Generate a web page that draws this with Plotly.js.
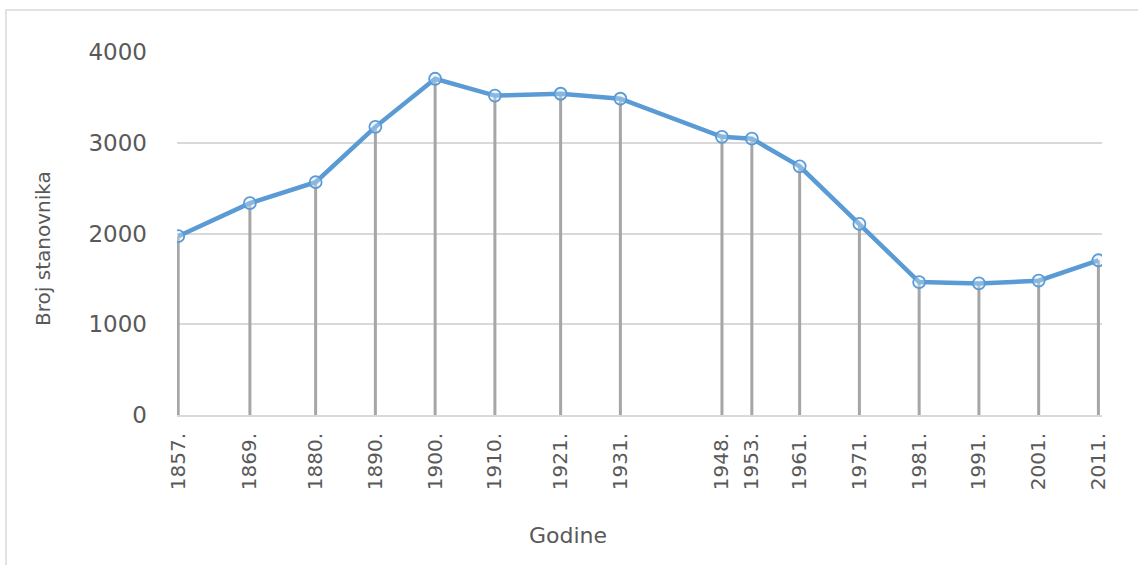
<!DOCTYPE html>
<html>
<head>
<meta charset="utf-8">
<script src="https://cdn.plot.ly/plotly-3.0.1.min.js"></script>
<style>
  html, body { margin: 0; padding: 0; background: #fff; }
  #wrap { position: relative; width: 1138px; height: 565px; }
  #frame { position: absolute; left: 5px; top: 9px; width: 1140px; height: 570px;
           border-top: 2px solid #e3e3e3; border-left: 2px solid #e3e3e3; pointer-events: none; }
  #chart { position: absolute; left: 0; top: 0; width: 1138px; height: 565px; }
</style>
</head>
<body>
<div id="wrap">
  <div id="chart"></div>
  <div id="frame"></div>
</div>
<script>
// Census years and population (Broj stanovnika)
const years = [1857, 1869, 1880, 1890, 1900, 1910, 1921, 1931, 1948, 1953, 1961, 1971, 1981, 1991, 2001, 2011];
const population = [1970, 2335, 2565, 3175, 3705, 3520, 3540, 3485, 3065, 3045, 2740, 2105, 1465, 1450, 1480, 1705];
const yearLabels = years.map(y => y + '.');
const yTicks = [0, 1000, 2000, 3000, 4000];

const textColor = '#595959';
const font = 'DejaVu Sans, sans-serif';

// Drop lines from each point to the axis
const stemX = [], stemY = [];
years.forEach((yr, i) => { stemX.push(yr, yr, null); stemY.push(0, population[i], null); });

const traces = [
  {
    x: stemX, y: stemY, type: 'scatter', mode: 'lines',
    line: { color: '#a6a6a6', width: 3 },
    hoverinfo: 'skip', showlegend: false
  },
  {
    x: years, y: population, type: 'scatter', mode: 'lines+markers',
    line: { color: '#5b9bd5', width: 4.5 },
    marker: { symbol: 'circle', size: 12, color: 'rgba(220,234,247,0.35)',
              line: { color: '#5b9bd5', width: 1.8 } },
    name: 'Broj stanovnika', showlegend: false
  }
];

const layout = {
  width: 1138, height: 565,
  margin: { l: 177, r: 36, t: 52, b: 150 },
  paper_bgcolor: '#ffffff', plot_bgcolor: '#ffffff',
  font: { family: font, color: textColor },
  showlegend: false,
  xaxis: {
    type: 'linear',
    range: [1856.8, 2011.6],
    tickmode: 'array', tickvals: years, ticktext: yearLabels,
    tickangle: -90,
    tickfont: { size: 20, color: textColor, family: font },
    showgrid: false, zeroline: false,
    showline: true, linecolor: '#d9d9d9', linewidth: 2,
    ticks: '', ticklabelstandoff: 8
  },
  yaxis: {
    range: [0, 4000],
    tickmode: 'array', tickvals: yTicks, ticktext: yTicks.map(String),
    tickfont: { size: 23, color: textColor, family: font },
    showgrid: true, gridcolor: '#d9d9d9', gridwidth: 2,
    zeroline: false, showline: false, ticks: '',
    ticklabelstandoff: 29
  },
  annotations: [
    { text: 'Broj stanovnika', xref: 'paper', yref: 'paper', x: -0.145, y: 0.46,
      xanchor: 'center', yanchor: 'middle', textangle: -90, showarrow: false,
      font: { size: 20, color: textColor, family: font } },
    { text: 'Godine', xref: 'paper', yref: 'paper', x: 0.4227, y: -0.333,
      xanchor: 'center', yanchor: 'middle', showarrow: false,
      font: { size: 22, color: textColor, family: font } }
  ]
};

Plotly.newPlot('chart', traces, layout, { staticPlot: true, displayModeBar: false });
</script>
</body>
</html>
